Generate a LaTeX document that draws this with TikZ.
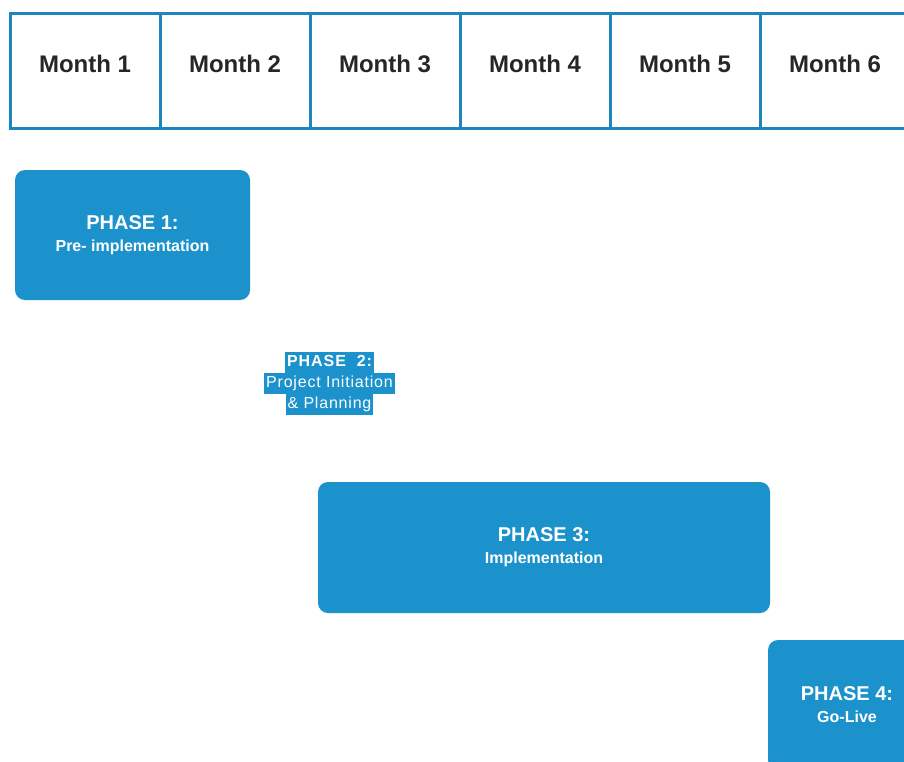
\documentclass[tikz,border=0pt]{standalone}
\usepackage{fontspec}
\setmainfont{Liberation Sans}
\usetikzlibrary{positioning}
\definecolor{hdrblue}{RGB}{30,134,188}
\definecolor{phaseblue}{RGB}{27,146,203}
\tikzset{monthcell/.style={rectangle,draw=hdrblue,line width=3pt,outer sep=0pt,minimum width=150pt,minimum height=115pt,text=black!85,font=\bfseries\fontsize{24}{28}\selectfont,text height=17pt,text depth=14pt},
  phase/.style={rectangle,rounded corners=10pt,fill=phaseblue,text=white,align=center,font=\bfseries\fontsize{16}{22}\selectfont},
  hilite/.style={rectangle,fill=phaseblue,text=white,inner xsep=2pt,inner ysep=0pt,minimum height=21pt,outer sep=0pt,text height=12pt,text depth=4pt}}
\newcommand{\phasehead}[1]{{\fontsize{20}{24}\selectfont #1}}

\begin{document}
\begin{tikzpicture}[x=1pt,y=-1pt]
\useasboundingbox (0,0) rectangle (904,761);
\clip (0,0) rectangle (904,761);
% months
\foreach \i in {1,...,6}
  \node[monthcell] (m\i) at ({85+150*(\i-1)},70.5) {Month \i};
% phases
\node[phase,minimum width=235pt,minimum height=130pt] (p1) at (132.5,235) {\phasehead{PHASE 1:}\\Pre- implementation};
\node[hilite,font=\bfseries\fontsize{16}{18}\selectfont\addfontfeature{LetterSpace=6}] (p2a) at (329.5,362.5) {PHASE\ \ 2:};
\node[hilite,below=0pt of p2a,font=\fontsize{16}{18}\selectfont\addfontfeature{LetterSpace=5}] (p2b) {Project\ Initiation};
\node[hilite,below=0pt of p2b,font=\fontsize{16}{18}\selectfont\addfontfeature{LetterSpace=5}] (p2c) {\& Planning};
\node[phase,minimum width=452pt,minimum height=131pt] (p3) at (544,547.5) {\phasehead{PHASE 3:}\\Implementation};
\node[phase,minimum width=158pt,minimum height=130pt] (p4) at (847,705) {\phasehead{PHASE 4:}\\Go-Live};
\end{tikzpicture}
\end{document}
